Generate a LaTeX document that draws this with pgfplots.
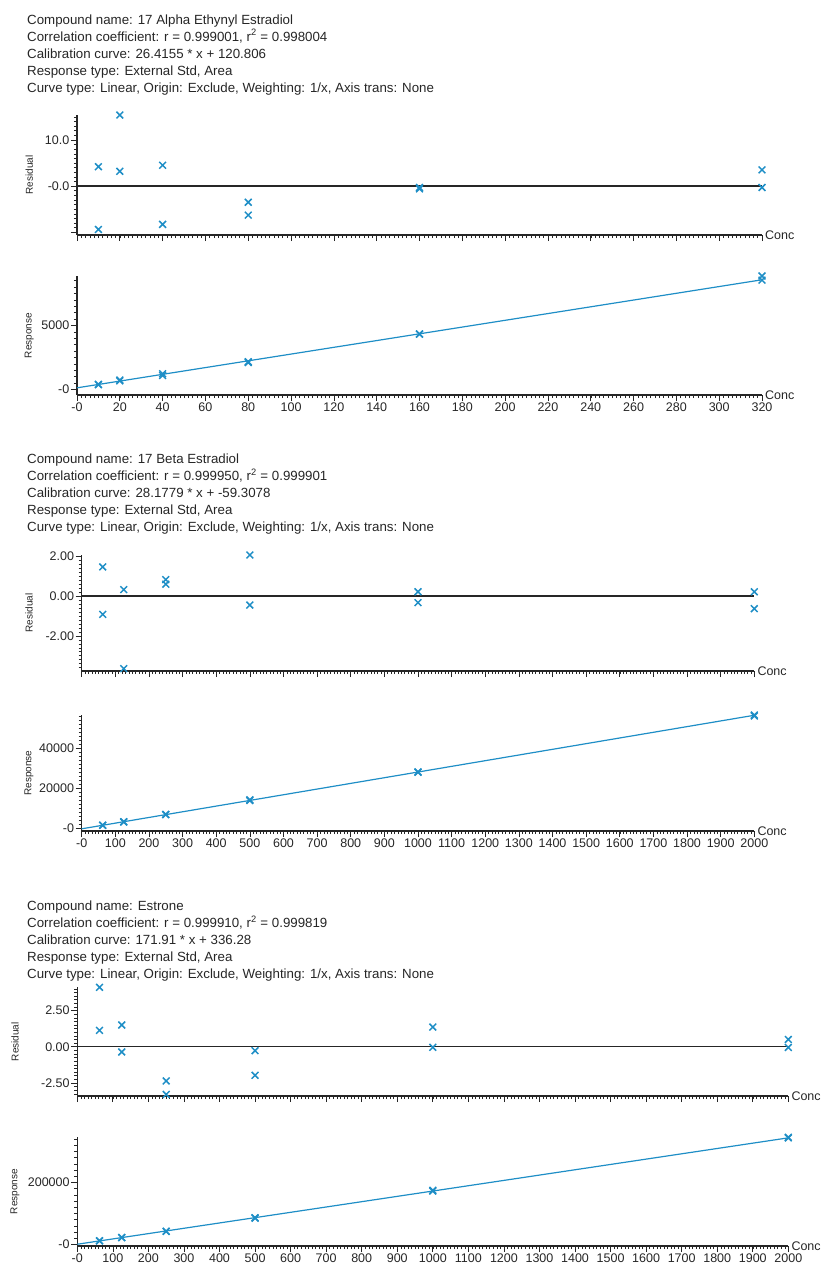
\documentclass[border=0pt]{standalone}
\usepackage{fontspec}
\setmainfont{Liberation Sans}
\usepackage{pgfplots}
\pgfplotsset{compat=1.18}
\definecolor{calblue}{RGB}{30,142,198}

\pgfplotsset{
  cal/.style={
    scale only axis, anchor=south west,
    axis lines*=left, axis line style={line width=1.4pt, black!85},
    tick align=outside, major tick length=6pt, minor tick length=3pt,
    every tick/.style={black!85, line width=0.7pt},
    every minor tick/.style={black!85, line width=0.5pt},
    tick label style={font=\fontsize{12.5}{14}\selectfont, inner sep=1.5pt, text=black!85},
    /pgf/number format/assume math mode=true,
    scaled x ticks=false, scaled y ticks=false,
    xlabel={Conc},
    every axis x label/.style={at={(axis description cs:1,0)}, anchor=west,
      font=\fontsize{12.5}{14}\selectfont, text=black!85, inner sep=3pt},
    every axis y label/.style={rotate=90, anchor=center,
      font=\fontsize{10}{12}\selectfont, text=black!85},
    clip=false,
  },
  nox/.style={xticklabel style={text opacity=0}},
  pts/.style={only marks, mark=x, mark size=4.8pt, calblue, line width=1.5pt},
  fit/.style={calblue, line width=1.2pt, no marks},
  zero/.style={black!85, line width=1.5pt, no marks},
}
\tikzset{hd/.style={anchor=base west, inner sep=0pt, font=\fontsize{13.3}{15}\selectfont, text=black!85}}

% header block: baseline of first line, name, r, r2, curve
\newcommand{\hdr}[5]{%
  \node[hd] at (27pt,{-(#1)*1pt}) {Compound name: #2};
  \node[hd] at (27pt,{-(#1+17)*1pt}) {Correlation coefficient: r = #3, r\textsuperscript{2} = #4};
  \node[hd] at (27pt,{-(#1+34)*1pt}) {Calibration curve: #5};
  \node[hd] at (27pt,{-(#1+51)*1pt}) {Response type: External Std, Area};
  \node[hd] at (27pt,{-(#1+68)*1pt}) {Curve type: Linear, Origin: Exclude, Weighting: 1/x, Axis trans: None};
}

\begin{document}
\begin{tikzpicture}
\useasboundingbox (0,0) rectangle (833pt,-1280pt);

\hdr{24}{17 Alpha Ethynyl Estradiol}{0.999001}{0.998004}{26.4155 * x + 120.806}
\hdr{463.5}{17 Beta Estradiol}{0.999950}{0.999901}{28.1779 * x + -59.3078}
\hdr{910.5}{Estrone}{0.999910}{0.999819}{171.91 * x + 336.28}

% ---- 17 Alpha Ethynyl Estradiol ----
\begin{axis}[cal, nox, at={(77pt,-235pt)}, width=685pt, height=120pt,
  xmin=0, xmax=320, ymin=-10.6, ymax=15.4,
  xtick={0,20,...,320}, minor xtick={0,2,...,320},
  ytick={-10,0,10}, yticklabels={,-0.0,10.0}, minor ytick={-10,-9,...,15},
  ylabel={Residual}, ylabel style={at={([xshift=-47.7pt]axis description cs:0,0.5)}}]
\addplot[zero] coordinates {(0,0) (320,0)};
\addplot[pts] coordinates {
  (10,4.2) (10,-9.4) (20,15.4) (20,3.2) (40,4.5) (40,-8.3)
  (80,-3.5) (80,-6.3) (160,-0.3) (160,-0.6) (320,3.5) (320,-0.3)};
\end{axis}

\begin{axis}[cal, at={(77pt,-395pt)}, width=685pt, height=119pt,
  xmin=0, xmax=320, ymin=-440, ymax=8870,
  xtick={0,20,...,320}, xticklabels={-0,20,40,60,80,100,120,140,160,180,200,220,240,260,280,300,320},
  minor xtick={0,2,...,320},
  ytick={0,5000}, yticklabels={-0,5000}, minor ytick={0,500,...,8500},
  ylabel={Response}, ylabel style={at={([xshift=-47.7pt]axis description cs:0,0.5)}}]
\addplot[fit] coordinates {(0,120.806) (320,8573.8)};
\addplot[pts] coordinates {
  (10,396.1) (10,360.1) (20,730.5) (20,666.0) (40,1225.0) (40,1089.7)
  (80,2160.1) (80,2100.9) (160,4334.6) (160,4321.9) (320,8869.6) (320,8548.4)};
\end{axis}

% ---- 17 Beta Estradiol ----
\begin{axis}[cal, nox, at={(81.7pt,-671pt)}, width=672.6pt, height=116pt,
  xmin=0, xmax=2000, ymin=-3.77, ymax=2.07,
  xtick={0,100,...,2000}, minor xtick={0,10,...,2000},
  ytick={-2,0,2}, yticklabels={-2.00,0.00,2.00}, minor ytick={-3.6,-3.4,...,2.0},
  ylabel={Residual}, ylabel style={at={([xshift=-52.7pt]axis description cs:0,0.5)}}]
\addplot[zero] coordinates {(0,0) (2000,0)};
\addplot[pts] coordinates {
  (62.5,1.47) (62.5,-0.92) (125,0.33) (125,-3.65) (250,0.83) (250,0.6)
  (500,2.07) (500,-0.45) (1000,0.22) (1000,-0.33) (2000,0.22) (2000,-0.63)};
\end{axis}

\begin{axis}[cal, at={(81.7pt,-831pt)}, width=672.6pt, height=116pt,
  xmin=0, xmax=2000, ymin=-1150, ymax=56420,
  xtick={0,100,...,2000},
  xticklabels={-0,100,200,300,400,500,600,700,800,900,1000,1100,1200,1300,1400,1500,1600,1700,1800,1900,2000},
  minor xtick={0,10,...,2000},
  ytick={0,20000,40000}, yticklabels={-0,20000,40000}, minor ytick={0,2000,...,56000},
  ylabel={Response}, ylabel style={at={([xshift=-52.7pt]axis description cs:0,0.5)}}]
\addplot[fit] coordinates {(0,-59.3) (2000,56296.5)};
\addplot[pts] coordinates {
  (62.5,1727.7) (62.5,1685.6) (125,3474.5) (125,3334.4) (250,7043.7) (250,7027.4)
  (500,14321.3) (500,13966.2) (1000,28180.6) (1000,28025.6) (2000,56420.5) (2000,55941.5)};
\end{axis}

% ---- Estrone ----
\begin{axis}[cal, nox, at={(77.3pt,-1096pt)}, width=711pt, height=108.7pt,
  xmin=0, xmax=2000, ymin=-3.4, ymax=4.1,
  xtick={0,100,...,2000}, minor xtick={0,10,...,2000},
  ytick={-2.5,0,2.5}, yticklabels={-2.50,0.00,2.50}, minor ytick={-3.25,-3,...,4},
  ylabel={Residual}, ylabel style={at={([xshift=-62.3pt]axis description cs:0,0.5)}}]
\addplot[zero] coordinates {(0,0) (2000,0)};
\addplot[pts] coordinates {
  (62.5,4.1) (62.5,1.13) (125,1.5) (125,-0.36) (250,-2.36) (250,-3.29)
  (500,-0.27) (500,-1.97) (1000,1.36) (1000,-0.04) (2000,0.5) (2000,-0.05)};
\end{axis}

\begin{axis}[cal, at={(77.3pt,-1246pt)}, width=711pt, height=108.7pt,
  xmin=0, xmax=2000, ymin=-5400, ymax=345875,
  xtick={0,100,...,2000},
  xticklabels={-0,100,200,300,400,500,600,700,800,900,1000,1100,1200,1300,1400,1500,1600,1700,1800,1900,2000},
  minor xtick={0,10,...,2000},
  ytick={0,200000}, yticklabels={-0,200000}, minor ytick={0,20000,...,340000},
  ylabel={Response}, ylabel style={at={([xshift=-62.3pt]axis description cs:0,0.5)}}]
\addplot[fit] coordinates {(0,336.3) (2000,344156)};
\addplot[pts] coordinates {
  (62.5,11520.8) (62.5,11202.9) (125,22147.4) (125,21747.7) (250,42299.5) (250,41900.7)
  (500,86059.3) (500,84598.1) (1000,174584) (1000,172177) (2000,345875) (2000,343984)};
\end{axis}
\end{tikzpicture}
\end{document}
